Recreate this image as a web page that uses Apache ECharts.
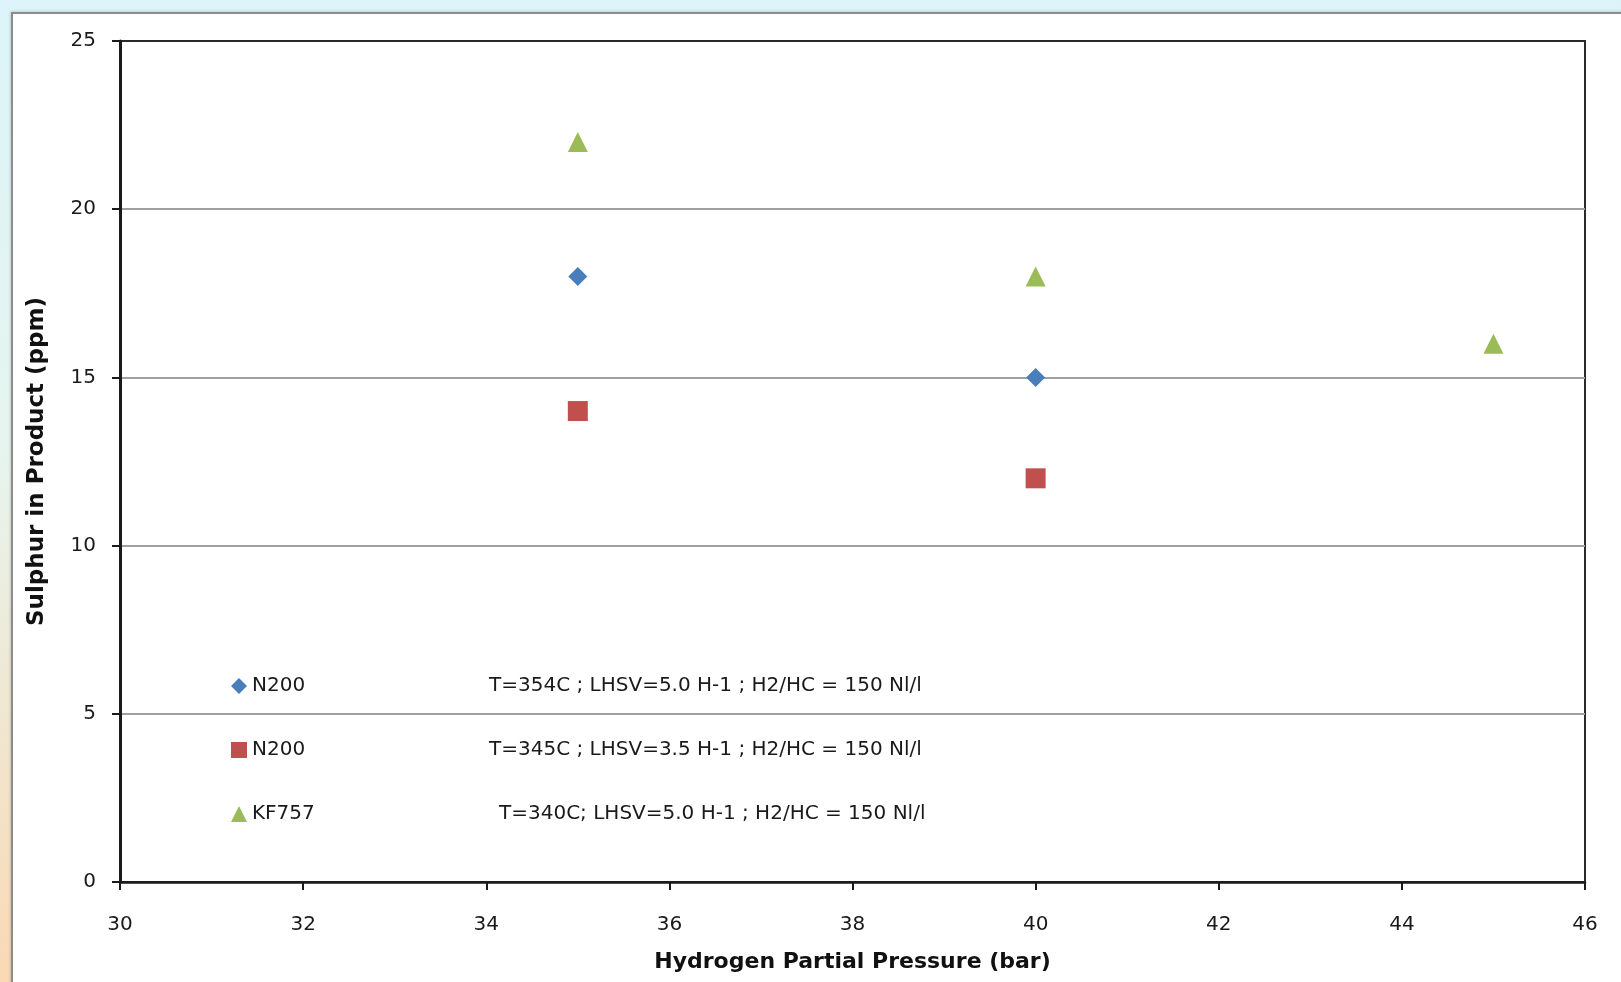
<!DOCTYPE html>
<html>
<head>
<meta charset="utf-8">
<script src="https://cdn.jsdelivr.net/npm/echarts@6/dist/echarts.min.js"></script>
<style>
html,body{margin:0;padding:0;width:1621px;height:982px;overflow:hidden;}
body{background:linear-gradient(to bottom,#dcf4f9 0%,#e6f5ef 45%,#f9d9b4 100%);}
#panel{position:absolute;left:11px;top:12px;right:-4px;bottom:-4px;background:#fff;border-left:2px solid #8c8c8c;border-top:2px solid #8c8c8c;box-shadow:0 0 3px rgba(0,0,0,0.25);}
#chart{position:absolute;left:0;top:0;width:1621px;height:982px;}
</style>
</head>
<body>
<div id="panel"></div>
<div id="chart"></div>
<script>
const catalysts = ['N200', 'N200', 'KF757'];
const conditions = [
  'T=354C ; LHSV=5.0 H-1 ; H2/HC = 150 Nl/l',
  'T=345C ; LHSV=3.5 H-1 ; H2/HC = 150 Nl/l',
  'T=340C; LHSV=5.0 H-1 ; H2/HC = 150 Nl/l'
];
const pressureA = [35, 40];
const sulphurA = [18, 15];
const pressureB = [35, 40];
const sulphurB = [14, 12];
const pressureC = [35, 40, 45];
const sulphurC = [22, 18, 16];
const xTitle = 'Hydrogen Partial Pressure (bar)';
const yTitle = 'Sulphur in Product (ppm)';

const colors = ['#4a7ebb', '#c0504d', '#9bbb59'];
const symbols = ['diamond', 'rect', 'triangle'];
const xs = [pressureA, pressureB, pressureC];
const ys = [sulphurA, sulphurB, sulphurC];
const names = catalysts.map((c, i) => c + '|' + conditions[i]);
const FONT = 'DejaVu Sans';
const FS = 20;

const series = names.map((n, i) => ({
  name: n,
  type: 'scatter',
  symbol: symbols[i],
  symbolSize: i === 0 ? 19 : 20,
  itemStyle: { color: colors[i], opacity: 1 },
  data: xs[i].map((x, k) => [x, ys[i][k]])
}));

const chart = echarts.init(document.getElementById('chart'), null, { renderer: 'canvas' });
chart.setOption({
  backgroundColor: 'transparent',
  animation: false,
  grid: { left: 120, right: 36, top: 41, bottom: 100, show: true, borderColor: '#2a2a2a', borderWidth: 2, backgroundColor: 'transparent' },
  legend: {
    orient: 'vertical',
    left: 226,
    top: 671,
    itemWidth: 16,
    itemHeight: 16,
    itemGap: 44,
    data: names.map((n, i) => ({ name: n, icon: symbols[i] })),
    formatter: function (n) {
      const i = names.indexOf(n);
      const parts = n.split('|');
      return '{' + (i === 2 ? 'b' : 'a') + '|' + parts[0] + '}{t|' + parts[1] + '}';
    },
    textStyle: {
      fontFamily: FONT,
      fontSize: FS,
      lineHeight: 20,
      color: '#1a1a1a',
      rich: {
        a: { width: 237, fontFamily: FONT, fontSize: FS, lineHeight: 20, color: '#1a1a1a' },
        b: { width: 247, fontFamily: FONT, fontSize: FS, lineHeight: 20, color: '#1a1a1a' },
        t: { fontFamily: FONT, fontSize: FS, lineHeight: 20, color: '#1a1a1a' }
      }
    },
    selectedMode: false
  },
  xAxis: {
    type: 'value',
    min: 30, max: 46, interval: 2,
    name: xTitle,
    nameLocation: 'middle',
    nameGap: 69,
    nameTextStyle: { fontFamily: FONT, fontSize: 22, fontWeight: 'bold', color: '#111' },
    axisLine: { show: true, onZero: false, lineStyle: { color: '#1a1a1a', width: 2.5 } },
    axisTick: { show: true, inside: false, length: 8, lineStyle: { color: '#1a1a1a', width: 2 } },
    axisLabel: { margin: 33, fontFamily: FONT, fontSize: 20, color: '#1a1a1a' },
    splitLine: { show: false }
  },
  yAxis: {
    type: 'value',
    min: 0, max: 25, interval: 5,
    name: yTitle,
    nameLocation: 'middle',
    nameGap: 71,
    nameTextStyle: { fontFamily: FONT, fontSize: 23, fontWeight: 'bold', color: '#111' },
    axisLine: { show: true, lineStyle: { color: '#1a1a1a', width: 3 } },
    axisTick: { show: true, inside: false, length: 8, lineStyle: { color: '#1a1a1a', width: 2 } },
    axisLabel: { margin: 24, fontFamily: FONT, fontSize: 20, color: '#1a1a1a' },
    splitLine: { show: true, showMinLine: false, showMaxLine: false, lineStyle: { color: '#a0a0a0', width: 2 } }
  },
  series: series
});
</script>
</body>
</html>
